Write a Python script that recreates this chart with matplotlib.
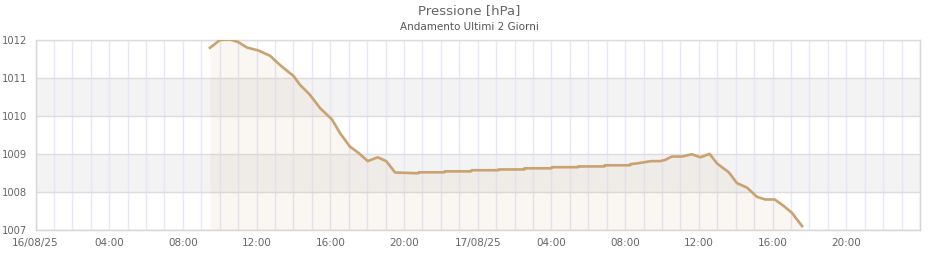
import matplotlib
matplotlib.use("Agg")
import matplotlib.pyplot as plt
import matplotlib.dates as mdates
import pandas as pd

times = [
    "2025-08-16 09:28", "2025-08-16 10:01", "2025-08-16 10:34", "2025-08-16 11:01",
    "2025-08-16 11:28", "2025-08-16 12:06", "2025-08-16 12:44", "2025-08-16 13:16",
    "2025-08-16 14:00", "2025-08-16 14:22", "2025-08-16 14:52", "2025-08-16 15:27",
    "2025-08-16 16:05", "2025-08-16 16:32", "2025-08-16 17:04", "2025-08-16 17:31",
    "2025-08-16 18:02", "2025-08-16 18:34", "2025-08-16 19:02", "2025-08-16 19:31",
    "2025-08-16 20:46", "2025-08-16 20:48", "2025-08-16 22:11", "2025-08-16 22:12",
    "2025-08-16 23:38", "2025-08-16 23:40", "2025-08-17 01:07", "2025-08-17 01:08",
    "2025-08-17 02:31", "2025-08-17 02:32", "2025-08-17 03:59", "2025-08-17 04:01",
    "2025-08-17 05:27", "2025-08-17 05:28", "2025-08-17 06:52", "2025-08-17 06:53",
    "2025-08-17 08:16", "2025-08-17 08:17", "2025-08-17 08:39", "2025-08-17 09:02",
    "2025-08-17 09:25", "2025-08-17 09:54", "2025-08-17 10:10", "2025-08-17 10:32",
    "2025-08-17 11:05", "2025-08-17 11:37", "2025-08-17 12:05", "2025-08-17 12:35",
    "2025-08-17 12:59", "2025-08-17 13:15", "2025-08-17 13:37", "2025-08-17 14:04",
    "2025-08-17 14:37", "2025-08-17 15:09", "2025-08-17 15:36", "2025-08-17 16:07",
    "2025-08-17 16:36", "2025-08-17 17:03", "2025-08-17 17:36",
]
pressure = [
    1011.78, 1011.99, 1012.00, 1011.93,
    1011.79, 1011.71, 1011.57, 1011.33,
    1011.04, 1010.80, 1010.56, 1010.19,
    1009.90, 1009.53, 1009.18, 1009.02,
    1008.80, 1008.90, 1008.80, 1008.50,
    1008.48, 1008.505, 1008.505, 1008.53,
    1008.53, 1008.56, 1008.56, 1008.58,
    1008.58, 1008.61, 1008.61, 1008.64,
    1008.64, 1008.66, 1008.66, 1008.69,
    1008.69, 1008.72, 1008.74, 1008.77,
    1008.80, 1008.80, 1008.83, 1008.92,
    1008.92, 1008.98, 1008.90, 1008.99,
    1008.74, 1008.64, 1008.51, 1008.22,
    1008.10, 1007.86, 1007.79, 1007.79,
    1007.62, 1007.44, 1007.09,
]
y_ticks = [1007, 1008, 1009, 1010, 1011, 1012]
x_start = "2025-08-16 00:00"
x_end = "2025-08-18 00:00"
title = "Pressione [hPa]"
subtitle = "Andamento Ultimi 2 Giorni"

t = pd.to_datetime(times)
fig = plt.figure(figsize=(9.4, 2.6), dpi=100)
W, H = 940, 260
ax = fig.add_axes([35.5 / W, 1 - 229.5 / H, (920 - 35.5) / W, (229.5 - 39.5) / H])

ymin, ymax = y_ticks[0], y_ticks[-1]
x0, x1 = pd.Timestamp(x_start), pd.Timestamp(x_end)
ax.set_ylim(ymin, ymax)
ax.set_xlim(x0, x1)

# alternating bands
for i, lo in enumerate(y_ticks[:-1]):
    if i % 2 == 1:
        ax.axhspan(lo, lo + 1, color="#f3f3f3", zorder=0, lw=0)

# ticks: labels every 4 hours (last edge label omitted), grid every hour
major = pd.date_range(x0, x1, freq="4h")[:-1]
ax.set_xticks(mdates.date2num(major))
ax.xaxis.set_minor_locator(mdates.HourLocator(interval=1))
ax.grid(True, which="both", axis="x", color="#e8e6f8", lw=1, zorder=1)
ax.set_yticks(y_ticks)
ax.grid(True, which="major", axis="y", color="#dddddd", lw=1, zorder=1)
ax.set_axisbelow(True)

def fmt(x, pos=None):
    d = mdates.num2date(x)
    if d.hour == 0:
        return d.strftime("%d/%m/%y")
    return d.strftime("%H:%M")

ax.xaxis.set_major_formatter(plt.FuncFormatter(fmt))

ax.fill_between(t, pressure, ymin, color="#c8a070", alpha=0.09, lw=0, zorder=2)
ax.plot(t, pressure, color="#c9a26f", lw=1.9, zorder=3, solid_joinstyle="round")

for s in ax.spines.values():
    s.set_color("#d6d6d6")
    s.set_linewidth(1)
ax.spines["top"].set_color("#dddddd")

ax.tick_params(axis="both", which="both", length=0, labelsize=7.5, colors="#666666")
ax.tick_params(axis="y", pad=6, labelsize=7.2)
ax.tick_params(axis="x", pad=6)

fig.text(469 / W, 1 - 11 / H, title, ha="center", va="center", fontsize=9.5, color="#666666")
fig.text(469 / W, 1 - 27 / H, subtitle, ha="center", va="center", fontsize=7.5, color="#555555")

fig.savefig("out.png", dpi=100)
